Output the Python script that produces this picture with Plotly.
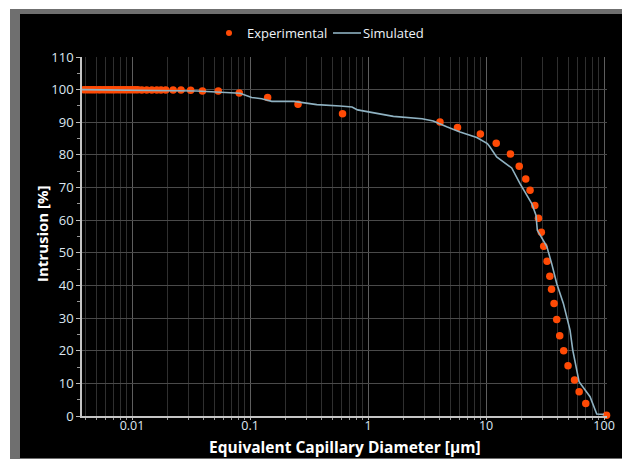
import plotly.graph_objects as go

# ---- data ----
exp_x = [0.0037, 0.0039, 0.0041, 0.0043, 0.0045, 0.0047, 0.0049, 0.0052, 0.0054,
         0.0057, 0.0060, 0.0063, 0.0066, 0.0069, 0.0072, 0.0076, 0.0080, 0.0084,
         0.0088, 0.0092, 0.0097, 0.0102, 0.0107, 0.0112, 0.0121, 0.0133, 0.0147,
         0.0162, 0.0176, 0.0193, 0.0223, 0.0260, 0.0314, 0.0395, 0.0538, 0.081,
         0.141, 0.255, 0.608, 4.07, 5.73, 8.95, 12.2, 16.1, 19.1, 21.7, 23.6,
         25.9, 27.8, 29.4, 30.8, 32.9, 34.7, 35.9, 37.7, 39.7, 42.1, 45.5, 49.5,
         56.2, 61.5, 70.0, 105.0]
exp_y = [100, 100, 100, 100, 100, 100, 100, 100, 100,
         100, 100, 100, 100, 100, 100, 100, 100, 100,
         100, 100, 100, 100, 100, 100, 99.9, 99.9, 99.9,
         99.9, 99.9, 99.9, 99.9, 99.9, 99.8, 99.6, 99.6, 99.0,
         97.6, 95.5, 92.6, 90.1, 88.4, 86.4, 83.6, 80.3, 76.5, 72.6, 69.2,
         64.5, 60.6, 56.3, 52.0, 47.4, 42.8, 38.8, 34.5, 29.6, 24.6, 20.0, 15.4,
         11.0, 7.4, 3.8, 0.2]

sim_x = [0.0037, 0.0353, 0.0822, 0.1033, 0.1256, 0.1528, 0.236, 0.303, 0.368,
         0.579, 0.732, 0.815, 1.04, 1.22, 1.64, 2.87, 3.57, 4.64, 6.02, 8.35,
         10.26, 10.8, 12.3, 16.5, 19.4, 24.4, 26.5, 27.2, 32.7, 36.0, 39.7,
         45.2, 51.5, 54.3, 61.4, 76.1, 86.7, 100.0]
sim_y = [100, 99.6, 98.9, 97.6, 97.2, 96.4, 96.4, 95.9, 95.4,
         95.0, 94.7, 93.8, 93.1, 92.7, 91.8, 91.1, 90.4, 88.6, 87.0, 85.3,
         83.5, 82.4, 79.4, 76.0, 71.2, 65.1, 61.5, 56.9, 52.0, 46.7, 40.6,
         34.5, 26.3, 20.2, 10.5, 5.9, 0.6, 0.5]

x_tickvals = [0.01, 0.1, 1, 10, 100]
x_ticktext = ["0.01", "0.1", "1", "10", "100"]
y_tickvals = [0, 10, 20, 30, 40, 50, 60, 70, 80, 90, 100, 110]

series_names = ["Experimental", "Simulated"]
x_title = "Equivalent Capillary Diameter [μm]"
y_title = "Intrusion [%]"

MARKER_COLOR = "#ff4a05"
LINE_COLOR = "#8fb2c2"

# ---- layout geometry (page pixels; the page body adds an 8px offset) ----
OFF = 8
W, H = 630 - OFF, 459 - OFF
ML, MR, MT, MB = 82 - OFF, 630 - 607, 57 - OFF, 459 - 416
PW, PH = W - ML - MR, H - MT - MB


def px_x(p):
    return (p - OFF - ML) / PW


def px_y(p):
    return (H - MB - (p - OFF)) / PH


FONT = "Open Sans"
TICK_COLOR = "#dde7f2"

fig = go.Figure()
fig.add_trace(go.Scatter(
    x=exp_x, y=exp_y, mode="markers", name=series_names[0],
    marker=dict(color=MARKER_COLOR, size=7.5, line=dict(width=0)),
    cliponaxis=False, showlegend=False,
))
fig.add_trace(go.Scatter(
    x=sim_x, y=sim_y, mode="lines", name=series_names[1],
    line=dict(color=LINE_COLOR, width=1.6),
    cliponaxis=False, showlegend=False,
))

shapes = [
    dict(type="rect", xref="paper", yref="paper", layer="below",
         x0=px_x(10), x1=px_x(640), y0=px_y(470), y1=px_y(9),
         fillcolor="#6f6f6f", line=dict(width=0)),
    dict(type="rect", xref="paper", yref="paper", layer="below",
         x0=px_x(20), x1=px_x(622), y0=px_y(458), y1=px_y(14),
         fillcolor="black", line=dict(width=0)),
    # legend symbols
    dict(type="circle", xref="paper", yref="paper",
         x0=px_x(226), x1=px_x(232), y0=px_y(36), y1=px_y(30),
         fillcolor=MARKER_COLOR, line=dict(width=0)),
    dict(type="line", xref="paper", yref="paper",
         x0=px_x(333), x1=px_x(361), y0=px_y(33), y1=px_y(33),
         line=dict(color=LINE_COLOR, width=1.6)),
]

annotations = [
    dict(text=series_names[0], xref="paper", yref="paper",
         x=px_x(245), y=px_y(33), xanchor="left", yanchor="middle",
         showarrow=False, font=dict(family=FONT, size=13, color="#eef3f8")),
    dict(text=series_names[1], xref="paper", yref="paper",
         x=px_x(361), y=px_y(33), xanchor="left", yanchor="middle",
         showarrow=False, font=dict(family=FONT, size=13, color="#eef3f8")),
    dict(text="<b>" + x_title + "</b>", xref="paper", yref="paper",
         x=0.5, y=px_y(446.5), xanchor="center", yanchor="middle",
         showarrow=False, font=dict(family=FONT, size=15.5, color="white")),
    dict(text="<b>" + y_title + "</b>", xref="paper", yref="paper",
         x=px_x(42), y=px_y(233), xanchor="center", yanchor="middle",
         textangle=-90, showarrow=False,
         font=dict(family=FONT, size=15, color="white")),
]

fig.update_layout(
    width=W, height=H,
    margin=dict(l=ML, r=MR, t=MT, b=MB, pad=0, autoexpand=False),
    paper_bgcolor="white",
    plot_bgcolor="black",
    font=dict(family=FONT, color=TICK_COLOR, size=13),
    showlegend=False,
    shapes=shapes,
    annotations=annotations,
)

fig.update_xaxes(
    type="log", range=[-2.424, 2.025], automargin=False,
    tickmode="array", tickvals=x_tickvals, ticktext=x_ticktext,
    ticks="outside", ticklen=2, tickcolor="#bbbbbb",
    ticklabelstandoff=-5,
    showgrid=True, gridcolor="#5e5e5e", gridwidth=1,
    minor=dict(dtick="D1", ticks="outside", ticklen=2, tickcolor="#999999",
               showgrid=True, gridcolor="#2f2f2f", gridwidth=1),
    showline=True, linecolor="#c4c4c4", linewidth=1.5,
    zeroline=False,
    tickfont=dict(family=FONT, size=12.5, color=TICK_COLOR),
)
fig.update_yaxes(
    range=[0, 110], tickmode="array", tickvals=y_tickvals, automargin=False,
    ticks="outside", ticklen=4, tickcolor="#bbbbbb",
    showgrid=True, gridcolor="#4a4a4a", gridwidth=1,
    minor=dict(dtick=5, ticks="outside", ticklen=3, tickcolor="#999999",
               showgrid=False),
    showline=True, linecolor="#c4c4c4", linewidth=1.5,
    zeroline=False,
    tickfont=dict(family=FONT, size=13, color=TICK_COLOR),
)

fig.write_html("out.html")
